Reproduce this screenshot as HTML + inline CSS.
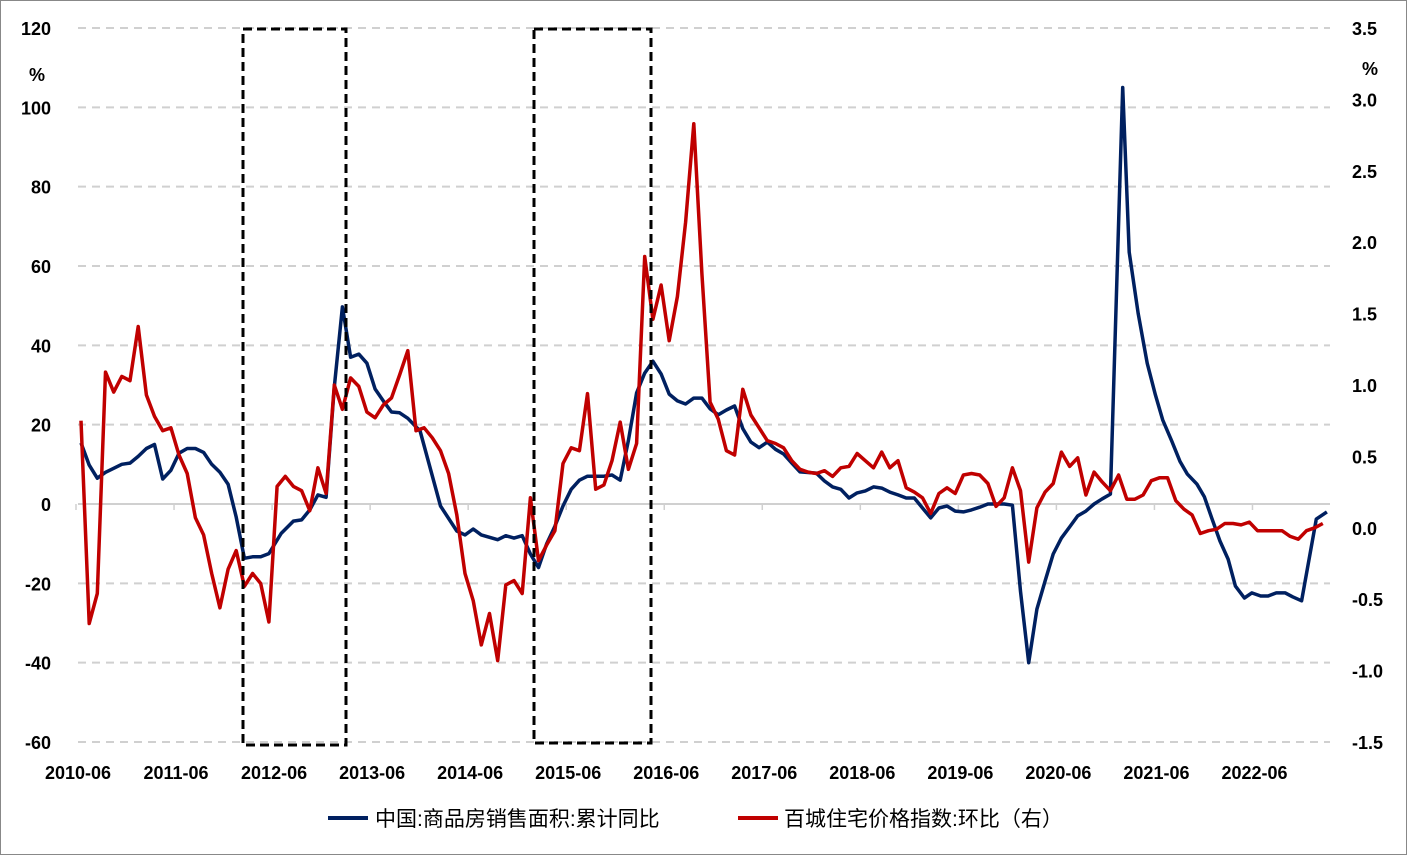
<!DOCTYPE html>
<html><head><meta charset="utf-8"><style>
html,body{margin:0;padding:0;background:#fff}
svg{display:block}
text{font-family:"Liberation Sans","Noto Sans CJK SC",sans-serif}
</style></head><body>
<svg id="chart" width="1407" height="855" xmlns="http://www.w3.org/2000/svg">
<rect x="0.5" y="0.5" width="1406" height="854" fill="#fff" stroke="#888"/>
<g id="grid"></g><g id="axes"></g><g id="series"></g>
<rect x="243" y="29" width="103" height="716" fill="none" stroke="#000" stroke-width="3" stroke-dasharray="9,5"/>
<rect x="534" y="29" width="117" height="714" fill="none" stroke="#000" stroke-width="3" stroke-dasharray="9,5"/>
<text x="37" y="81" font-size="18" font-weight="bold" text-anchor="middle">%</text>
<text x="1370" y="75" font-size="18" font-weight="bold" text-anchor="middle">%</text>
<g>
<g><line x1="328" y1="818" x2="368" y2="818" stroke="#002060" stroke-width="4"/><text x="375" y="826" font-size="21">中国:商品房销售面积:累计同比</text></g>
<g><line x1="738" y1="818" x2="778" y2="818" stroke="#c00000" stroke-width="4"/><text x="784" y="826" font-size="21">百城住宅价格指数:环比（右）</text></g>
</g>
</svg>
<script>
const blueMonths=[0,1,2,3,4,5,6,7,8,9,10,11,12,13,14,15,16,17,18,19,20,21,22,23,24.5,26,27,28,29,30,31,32,33,34,35,36,37,38,39,40,41.5,44,46,47,48,49,51,52,53,54,55,56,57,58,59,60,61,62,64,65,66,67,68,69,70,71,72,73,74,75,76,77,78,79,80,81,82,83,84,85,86,87,88,90,91,92,93,94,95,96,97,98,99,100,101,102,103,104,105,106,107,108,109,110,111,113,114,115,116,117,118,119,120,121,122,123,124,125,126,127.5,128.3,129.4,130.5,131.5,132.4,133.5,134.5,135.4,136.6,137.5,138.4,139.4,140.4,141.3,142.4,143.3,144.4,145.3,146.3,147.4,148.3,149.4,151.2,152.5];
const blueValues=[15.4,9.8,6.5,8,9,10,10.3,12,14,15,6.3,8.5,12.8,14,14,13,10,8,5,-3.3,-13.7,-13.3,-13.3,-12.5,-7.4,-4.3,-4,-1.5,2.3,1.7,29.5,49.7,37,37.8,35.5,29,26,23.2,23,21.6,18.4,-0.5,-6.8,-7.8,-6.3,-7.8,-9,-8,-8.6,-8,-12.6,-16,-10,-5.6,-0.5,3.7,6,7,7,7.3,6,16,28,33,36,32.8,27.7,26,25.2,26.7,26.7,24,22.5,23.7,24.7,19,15.6,14.2,15.6,13.8,12.6,10.3,8.1,7.8,5.8,4.3,3.7,1.5,2.8,3.3,4.3,4,3,2.3,1.5,1.5,-1,-3.5,-1,-0.5,-1.8,-2,-1.5,-0.8,0,0,-0.3,-22,-40,-26.5,-19.4,-12.6,-8.6,-5.8,-3,-1.8,0,1.3,2.5,105,63.5,48,35.5,27.5,21.2,15.9,10.8,7.6,5,1.8,-3.5,-9.3,-13.9,-20.7,-23.7,-22.4,-23.2,-23.2,-22.4,-22.4,-23.4,-24.4,-3.8,-2];
const redMonths=[0,1,2,3,4,5,6,7,8,9,10,11,12,13,14,15,16,17,18,19,20,21,22,23,24,25,26,27,28,29,30,31,32,33,34,35,36,37,38,39,40,41,42,43,44,45,46,47,48,49,50,51,52,53,54,55,56,57,58,59,60,61,62,63,64,65,66,67,68,69,70,71,72,73,74,75,76,77,78,79,80,81,82,83,84,85,86,87,88,89,90,91,92,93,94,95,96,97,98,99,100,101,102,103,104,105,106,107,108,109,110,111,112,113,114,115,116,117,118,119,120,121,122,123,124,125,126,127,128,129,130,131,132,133,134,135,136,137,138,139,140,141,142,143,144,145,146,147,148,149,150,151,152];
const redValues=[0.75,-0.67,-0.46,1.09,0.95,1.06,1.03,1.41,0.93,0.78,0.68,0.70,0.51,0.38,0.07,-0.05,-0.32,-0.56,-0.29,-0.16,-0.41,-0.32,-0.39,-0.66,0.29,0.36,0.29,0.26,0.12,0.42,0.24,1.0,0.83,1.05,0.99,0.81,0.77,0.86,0.91,1.07,1.24,0.68,0.70,0.63,0.54,0.38,0.09,-0.32,-0.51,-0.82,-0.60,-0.93,-0.40,-0.37,-0.46,0.21,-0.23,-0.12,-0.02,0.45,0.56,0.54,0.94,0.27,0.30,0.47,0.74,0.41,0.59,1.90,1.46,1.70,1.31,1.62,2.14,2.83,1.78,0.88,0.76,0.54,0.51,0.97,0.79,0.70,0.61,0.59,0.56,0.47,0.41,0.39,0.38,0.40,0.36,0.42,0.43,0.52,0.47,0.42,0.53,0.42,0.47,0.28,0.25,0.21,0.10,0.24,0.28,0.24,0.37,0.38,0.37,0.31,0.15,0.21,0.42,0.26,-0.24,0.14,0.25,0.31,0.53,0.43,0.49,0.23,0.39,0.32,0.26,0.37,0.20,0.20,0.23,0.33,0.35,0.35,0.19,0.13,0.09,-0.04,-0.02,-0.01,0.03,0.03,0.02,0.04,-0.02,-0.02,-0.02,-0.02,-0.06,-0.08,-0.02,0.0,0.03];
const leftTicks=[120,100,80,60,40,20,0,-20,-40,-60];
const rightTicks=[3.5,3.0,2.5,2.0,1.5,1.0,0.5,0.0,-0.5,-1.0,-1.5];
const xLabels=["2010-06","2011-06","2012-06","2013-06","2014-06","2015-06","2016-06","2017-06","2018-06","2019-06","2020-06","2021-06","2022-06"];

const NS="http://www.w3.org/2000/svg";
const X0=81,PX=8.17,TOP=28,BOT=742;
function xS(m){return X0+PX*m;}
function yL(v){return BOT-(v+60)/180*(BOT-TOP);}
function yR(v){return BOT-(v+1.5)/5*(BOT-TOP);}
function mk(tag,attrs,parent){const e=document.createElementNS(NS,tag);for(const k in attrs)e.setAttribute(k,attrs[k]);parent.appendChild(e);return e;}
const grid=document.getElementById('grid'),axes=document.getElementById('axes'),series=document.getElementById('series');
leftTicks.forEach((v,i)=>{
  const y=yL(v);
  if(v!==0){const g=mk('line',{x1:78,x2:1330,y1:y,y2:y,stroke:'#d0d0d0','stroke-width':2,'stroke-dasharray':'8,6'},grid);
  
  }
  const t=mk('text',{x:51,y:y+7,'font-size':18,'font-weight':'bold','text-anchor':'end'},axes);t.textContent=v;
  
  
});
rightTicks.forEach(v=>{
  const t=mk('text',{x:1352,y:yR(v)+7,'font-size':18,'font-weight':'bold','text-anchor':'start'},axes);t.textContent=v.toFixed(1);
  
  
});
const zl=mk('line',{x1:78,x2:1330,y1:yL(0),y2:yL(0),stroke:'#d0d0d0','stroke-width':2},axes);


xLabels.forEach((s,i)=>{
  const x=xS(i*12);
  mk('line',{x1:x-5,x2:x-5,y1:yL(0),y2:yL(0)+6,stroke:'#d0d0d0','stroke-width':1.5},axes);
  const t=mk('text',{x:x-3,y:779,'font-size':18,'font-weight':'bold','text-anchor':'middle'},axes);t.textContent=s;
  
  
});
function line(ms,vs,ys,color,name){
  const d=ms.map((m,i)=>(i?'L':'M')+xS(m).toFixed(1)+','+ys(vs[i]).toFixed(1)).join('');
  const p=mk('path',{d:d,fill:'none',stroke:color,'stroke-width':3.5,'stroke-linejoin':'round'},series);
  
  
}
line(blueMonths,blueValues,yL,'#002060','sales-area-yoy-line');
line(redMonths,redValues,yR,'#c00000','price-index-mom-line');
</script>
</body></html>
